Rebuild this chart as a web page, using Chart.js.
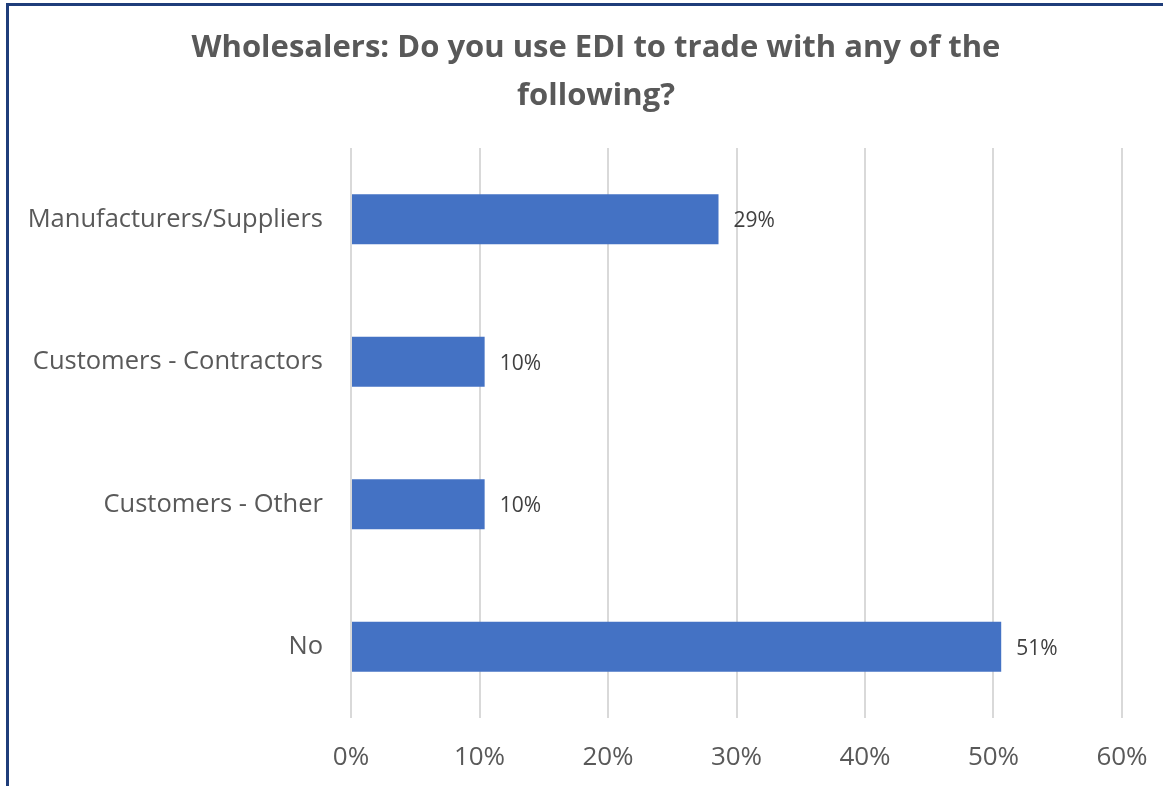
<!DOCTYPE html>
<html>
<head>
<meta charset="utf-8">
<script src="https://cdn.jsdelivr.net/npm/chart.js@4/dist/chart.umd.min.js"></script>
<style>
  html, body { margin: 0; padding: 0; background: #fff; overflow: hidden; }
  #moldura { position: absolute; left: 6px; top: 3px; width: 1300px; height: 900px; border: 3px solid #1f3d7a; box-sizing: border-box; }
  #caixa { position: absolute; left: 0; top: 0; width: 1163px; height: 786px; }
</style>
</head>
<body>
<div id="moldura"></div>
<div id="caixa"><canvas id="grafico" width="1163" height="786"></canvas></div>
<script>
// Dados do gráfico
const categorias = ['Manufacturers/Suppliers', 'Customers - Contractors', 'Customers - Other', 'No'];
const valores = [0.286, 0.104, 0.104, 0.506];
const rotulos = ['29%', '10%', '10%', '51%'];
const titulo = ['Wholesalers: Do you use EDI to trade with any of the', 'following?'];

const fonte = "'Open Sans', 'Noto Sans', sans-serif";

// Plugin simples para escrever os rótulos ao lado das barras
const rotulosBarras = {
    id: 'rotulosBarras',
    afterDatasetsDraw(chart) {
        const ctx = chart.ctx;
        const meta = chart.getDatasetMeta(0);
        ctx.save();
        ctx.font = '21px ' + fonte;
        ctx.fillStyle = '#404040';
        ctx.textAlign = 'left';
        ctx.textBaseline = 'middle';
        meta.data.forEach((barra, i) => {
            ctx.fillText(rotulos[i], barra.x + 15, barra.y + 2);
        });
        ctx.restore();
    }
};

// Título desenhado à mão (fica um pouco à direita do centro do canvas)
const tituloPlugin = {
    id: 'tituloPlugin',
    afterDraw(chart) {
        const ctx = chart.ctx;
        ctx.save();
        ctx.font = 'bold 31px ' + fonte;
        ctx.fillStyle = '#595959';
        ctx.textAlign = 'center';
        ctx.textBaseline = 'middle';
        titulo.forEach((linha, i) => ctx.fillText(linha, 596, 48 + i * 48));
        ctx.restore();
    }
};

const ctx = document.getElementById('grafico').getContext('2d');
const grafico = new Chart(ctx, {
    type: 'bar',
    data: {
        labels: categorias,
        datasets: [{
            data: valores,
            backgroundColor: '#4472c4',
            borderWidth: 0,
            categoryPercentage: 1,
            barPercentage: 0.35
        }]
    },
    options: {
        indexAxis: 'y',
        responsive: false,
        animation: false,
        layout: { padding: { left: 0, right: 41, top: 148, bottom: 0 } },
        plugins: {
            legend: { display: false },
            tooltip: { enabled: false },
            title: { display: false }
        },
        scales: {
            x: {
                min: 0,
                max: 0.6,
                ticks: {
                    stepSize: 0.1,
                    color: '#595959',
                    font: { family: fonte, size: 26 },
                    padding: 24,
                    callback: v => Math.round(v * 100) + '%'
                },
                grid: { color: '#d9d9d9', lineWidth: 2, drawTicks: false },
                border: { display: false },
                afterFit(escala) {
                    escala.height = 68;
                    escala.paddingLeft = 0;
                    escala.paddingRight = 0;
                }
            },
            y: {
                ticks: {
                    color: '#595959',
                    font: { family: fonte, size: 25.5 },
                    padding: 28
                },
                grid: { display: false, drawTicks: false },
                border: { display: false },
                afterFit(escala) { escala.width = 351; }
            }
        }
    },
    plugins: [rotulosBarras, tituloPlugin]
});
</script>
</body>
</html>
